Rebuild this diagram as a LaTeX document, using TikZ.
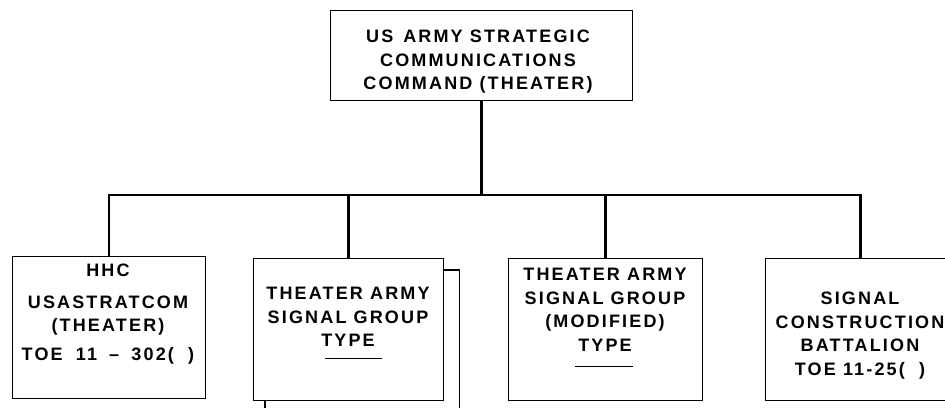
\documentclass[tikz,border=0pt]{standalone}
\usepackage{fontspec}
\newfontfamily\lbfont{Liberation Sans}[LetterSpace=12]
\begin{document}
\begin{tikzpicture}[x=1pt,y=-1pt,
  box/.style={draw, line width=1.3pt, inner sep=0pt, anchor=north west},
  frame/.style={line width=1.3pt},
  conn/.style={line width=2.5pt},
  lbl/.style={font=\lbfont\bfseries\fontsize{18}{23.5}\selectfont, align=center, inner sep=0pt, anchor=north},
  uline/.style={line width=1pt}]
\useasboundingbox (0,0) rectangle (945,407);
\clip (0,0) rectangle (945,407);
% boxes
\node[box, minimum width=302pt, minimum height=90pt] (top) at (330,10) {};
\node[box, minimum width=193pt, minimum height=142pt] (b1) at (12,256) {};
\node[box, minimum width=190pt, minimum height=142pt] (b2) at (253,258) {};
\node[box, minimum width=194pt, minimum height=142pt] (b3) at (508,258) {};
\node[box, minimum width=190pt, minimum height=142pt] (b4) at (765,258) {};
% texts
\node[lbl] (t0) at (478,30) {US\hspace{10pt}ARMY STRATEGIC\\COMMUNICATIONS\\COMMAND (THEATER)};
\node[lbl] (t1) at (108,264) {HHC\\[8pt]USASTRATCOM\\(THEATER)\\[5pt]TOE\hspace{6pt} 11\hspace{5pt} –\hspace{5pt} 302(~~)};
\node[lbl] (t2) at (348,287) {THEATER ARMY\\SIGNAL GROUP\\TYPE};
\node[lbl] (t3) at (605,268) {THEATER ARMY\\SIGNAL GROUP\\(MODIFIED)\\TYPE};
\node[lbl] (t4) at (860,292) {SIGNAL\\CONSTRUCTION\\BATTALION\\TOE 11-25(~~)};
% underlines of TYPE
\draw[uline] (325,358) -- (382,358);
\draw[uline] (575,366) -- (633,366);
% connectors
\coordinate (bus) at (482,195);
\draw[conn] (top.south) -- (top.south |- bus);
\draw[conn] (b1.north) |- (bus) -| (b4.north);
\draw[conn] (b2.north) -- (b2.north |- bus);
\draw[conn] (b3.north) -- (b3.north |- bus);
% stacked outline behind box 2
\draw[frame] ([yshift=-12pt]b2.north east) -- ++(15,0) -- ++(0,150);
\draw[frame] ([xshift=12pt]b2.south west) -- ++(0,12);
\end{tikzpicture}
\end{document}
